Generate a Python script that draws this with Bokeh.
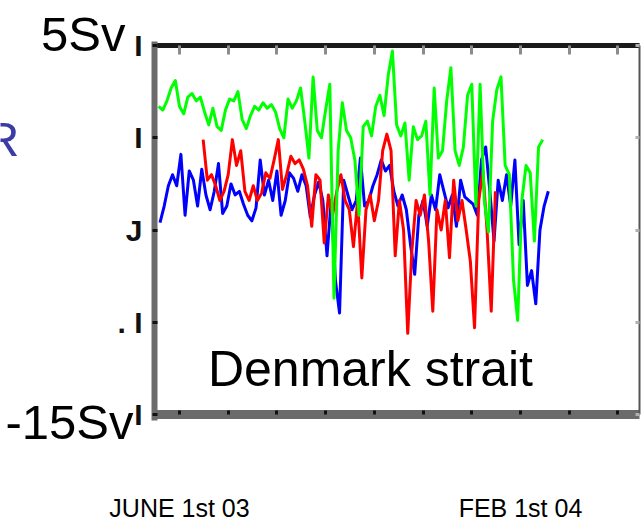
import numpy as np
from bokeh.plotting import figure
from bokeh.models import Range1d, LinearAxis, FixedTicker, Label
from bokeh.embed import file_html
from bokeh.resources import INLINE

# x: days since 1 June 2003, one sample every 3 days
step = 3
green_start = -15
blue_start = -14
red_start = 17

green = [1.7, 1.5, 2.0, 2.7, 3.1, 1.7, 1.3, 2.2, 2.4, 2.0,
         2.2, 1.4, 0.7, 1.6, 0.6, 0.4, 1.5, 2.1, 2.0, 2.5,
         1.0, 0.5, 1.2, 1.7, 1.5, 1.9, 1.6, 1.8, 1.4, 0.5,
         0.0, 2.1, 1.6, 2.0, 2.7, 0.9, -1.1, 3.3, 0.4, 0.0,
         1.5, 2.9, -8.7, -0.7, 1.9, 0.4, 0.0, -1.2, -4.2, 0.6,
         0.9, 0.1, 1.7, 2.3, 1.2, 3.4, 4.7, 0.7, 0.1, 0.8,
         -2.3, 0.6, -0.1, 0.1, 0.9, -3.1, 2.7, -1.1, -0.7, 2.0,
         3.8, -0.7, -1.5, -0.5, 2.3, 2.9, -3.7, 2.9, -3.4, -5.1,
         0.9, 2.6, 3.3, -1.5, -2.0, -7.7, -9.9, -3.4, -1.5, -1.9,
         -5.6, -0.5, -0.1]

blue = [-4.6, -3.7, -2.6, -2.0, -2.6, -0.9, -4.2, -1.8, -2.3, -3.7,
        -1.7, -3.1, -3.9, -2.9, -1.4, -4.1, -3.7, -2.5, -3.1, -2.9,
        -3.6, -4.2, -4.5, -3.8, -1.2, -3.1, -2.3, -3.4, -1.8, -4.2,
        -3.4, -1.9, -2.2, -2.9, -2.0, -2.6, -4.3, -3.1, -2.4, -3.4,
        -6.4, -3.4, -7.7, -9.5, -2.3, -3.1, -3.9, -3.4, -1.1, -3.7,
        -3.4, -2.6, -2.0, -1.2, -1.8, -1.5, -2.9, -3.7, -3.1, -3.9,
        -5.8, -7.4, -4.2, -3.4, -4.8, -3.1, -3.9, -2.0, -2.9, -3.8,
        -3.1, -4.8, -2.3, -3.2, -3.4, -3.6, -4.2, -1.2, -0.5, -2.9,
        -5.6, -2.3, -3.4, -2.0, -3.7, -1.2, -5.8, -3.4, -8.0, -7.2,
        -9.0, -5.0, -3.7, -2.9]

red = [-0.1, -2.3, -2.0, -2.6, -3.4, -2.9, -2.0, -0.1, -1.5, -0.7,
       -2.9, -3.4, -2.6, -3.4, -3.0, -1.9, -2.2, -1.2, -0.1, -2.8,
       -2.0, -1.0, -1.4, -1.2, -1.7, -2.6, -4.8, -2.0, -2.3, -5.7,
       -3.1, -4.2, -2.9, -2.0, -3.4, -3.9, -5.9, -3.4, -7.6, -3.9,
       -3.1, -4.5, -3.4, -0.7, 0.2, -0.7, -6.4, -3.4, -5.0, -10.6,
       -6.1, -3.4, -4.2, -3.1, -5.6, -9.4, -3.9, -5.0, -3.4, -6.5,
       -2.3, -4.5, -3.4, -5.0, -6.7, -10.3, -3.4, -1.8, -5.0, -9.4,
       -2.9]

frame_ticks = [0, 35, 70, 105, 140, 175, 210, 245, 280, 315]
date_tick_days = [0, 245]
date_tick_labels = ["JUNE 1st 03", "FEB 1st 04"]
y_ticks = [5, 0, -5, -10, -15]
y_tick_marks = {5: "I", 0: "I", -5: "J", -10: ". I", -15: "I"}

X_LO, X_HI = -17.96, 330.5      # plotting box (days)
Y_LO, Y_HI = -15, 5             # plotting box (Sv)

SANS = "Liberation Sans"

p = figure(width=641, height=524,
           x_range=Range1d(-128.62, 331.97), y_range=Range1d(-20.96, 7.44),
           output_backend="svg", toolbar_location=None,
           min_border=0, min_border_left=0, min_border_right=0,
           min_border_top=0, min_border_bottom=0)
p.background_fill_color = "white"
p.border_fill_color = "white"
p.outline_line_color = None
p.xgrid.visible = False
p.ygrid.visible = False

blank_x = {t: "" for t in frame_ticks}
blank_y = {t: "" for t in y_ticks}

# bottom axis: thick grey band with small dark ticks
xa = p.xaxis[0]
xa.fixed_location = Y_LO
xa.bounds = (X_LO, X_HI)
xa.ticker = FixedTicker(ticks=frame_ticks)
xa.axis_line_color = "#6b6b6b"
xa.axis_line_width = 9
xa.major_tick_in = 4
xa.major_tick_out = 0
xa.major_tick_line_color = "#111111"
xa.major_tick_line_width = 3
xa.minor_tick_line_color = None
xa.major_label_overrides = blank_x

# left axis
ya = p.yaxis[0]
ya.fixed_location = X_LO
ya.bounds = (Y_LO - 0.3, Y_HI + 0.2)
ya.ticker = FixedTicker(ticks=y_ticks)
ya.axis_line_color = "#6b6b6b"
ya.axis_line_width = 6
ya.major_tick_in = 3
ya.major_tick_out = 2
ya.major_tick_line_color = "#111111"
ya.major_tick_line_width = 3
ya.minor_tick_line_color = None
ya.major_label_overrides = y_tick_marks
ya.major_label_text_font = SANS
ya.major_label_text_font_style = "bold"
ya.major_label_text_font_size = "30px"
ya.major_label_text_color = "#111111"
ya.major_label_standoff = 10

# top border
top = LinearAxis(ticker=FixedTicker(ticks=frame_ticks), fixed_location=Y_HI,
                 bounds=(X_LO, X_HI))
top.axis_line_color = "#1a1a1a"
top.axis_line_width = 5
top.major_tick_in = 9
top.major_tick_out = 0
top.major_tick_line_color = "#8c8c8c"
top.major_tick_line_width = 3
top.minor_tick_line_color = None
top.major_label_overrides = blank_x
p.add_layout(top, "above")

# right border
right = LinearAxis(ticker=FixedTicker(ticks=y_ticks), fixed_location=X_HI,
                   bounds=(Y_LO, Y_HI))
right.axis_line_color = "#555555"
right.axis_line_width = 2
right.major_tick_in = 4
right.major_tick_out = 0
right.major_tick_line_color = "#b0b0b0"
right.major_tick_line_width = 3
right.minor_tick_line_color = None
right.major_label_overrides = blank_y
p.add_layout(right, "right")

gx = green_start + step * np.arange(len(green))
bx = blue_start + step * np.arange(len(blue))
rx = red_start + step * np.arange(len(red))

p.line(bx, blue, line_color="#0000ff", line_width=3, line_join="round")
p.line(rx, red, line_color="#ff0000", line_width=3, line_join="round")
p.line(gx, green, line_color="#00ff00", line_width=3, line_join="round")

p.add_layout(Label(x=-38.8, y=5.60, text="5Sv", text_font=SANS, text_font_size="49px",
                   text_align="right", text_baseline="alphabetic", text_color="black"))
p.add_layout(Label(x=-33.1, y=-15.43, text="-15Sv", text_font=SANS, text_font_size="49px",
                   text_align="right", text_baseline="alphabetic", text_color="black"))
p.add_layout(Label(x=-115.0, y=-0.09, text="R", text_font=SANS, text_font_size="49px",
                   text_align="right", text_baseline="alphabetic", text_color="#3c3ca6"))
p.add_layout(Label(x=137.2, y=-12.51, text="Denmark strait", text_font=SANS,
                   text_font_size="50px", text_align="center", text_baseline="alphabetic",
                   text_color="black"))
for d, t in zip(date_tick_days, date_tick_labels):
    p.add_layout(Label(x=d, y=-20.09, text=t, text_font=SANS, text_font_size="25px",
                       text_align="center", text_baseline="alphabetic", text_color="black"))

open("out.html", "w").write(file_html(p, INLINE))
